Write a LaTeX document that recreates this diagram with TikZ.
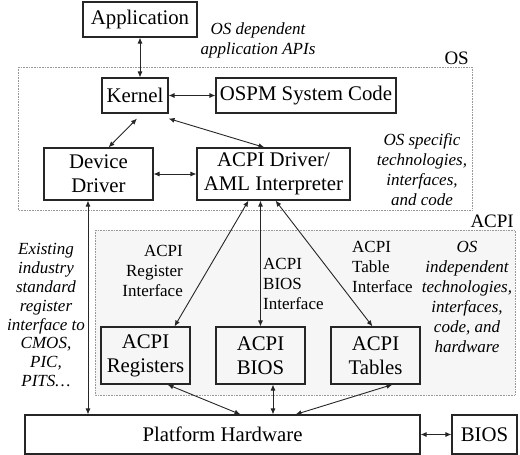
\documentclass[tikz,border=0pt]{standalone}
\usepackage{fontspec}
\setmainfont{Liberation Serif}
\usetikzlibrary{arrows.meta}
\definecolor{edge}{gray}{0.15}
\definecolor{frame}{gray}{0.6}
\definecolor{shade}{gray}{0.965}

\begin{document}
\begin{tikzpicture}[x=1pt,y=-1pt,
    box/.style={draw=edge,line width=1.1pt,inner sep=0pt,align=center,
      font=\fontsize{20.8}{24}\selectfont},
    link/.style={edge,line width=0.9pt,
      {Latex[length=6pt,width=5pt]}-{Latex[length=6pt,width=5pt]}},
    note/.style={inner sep=0pt,align=center,font=\fontsize{17}{20}\selectfont\itshape},
    tag/.style={inner sep=0pt,font=\fontsize{17}{20}\selectfont},
    layer/.style={draw=frame,line width=0.6pt,densely dotted}]
  \useasboundingbox (0,0) rectangle (520,455);
  % the two layers, OS on top and ACPI shaded below
  \draw[layer] (18,67) rectangle (472,210);
  \draw[layer,fill=shade] (95,230) rectangle (515,395);
  \node[anchor=south east,inner sep=0pt,font=\fontsize{19}{22}\selectfont] (os) at (469,65) {OS};
  \node[anchor=south east,inner sep=0pt,font=\fontsize{19}{22}\selectfont] (acpi) at (514,228) {ACPI};

  \node[box,minimum width=114pt,minimum height=35pt] (app) at (140,19.5) {Application};
  \node[box,minimum width=66pt,minimum height=35pt] (kernel) at (135,95.5) {Kernel};
  \node[box,minimum width=180pt,minimum height=35pt] (ospm) at (306,95.5) {OSPM System Code};
  \node[box,minimum width=109pt,minimum height=52pt] (dev) at (98.5,174) {Device\\Driver};
  \node[box,minimum width=153pt,minimum height=52pt] (aml) at (273.5,174) {ACPI Driver/\\AML Interpreter};
  \node[box,minimum width=89pt,minimum height=57pt] (reg) at (145.5,355.5) {ACPI\\Registers};
  \node[box,minimum width=89pt,minimum height=57pt] (bios) at (260.5,355.5) {ACPI\\BIOS};
  \node[box,minimum width=89pt,minimum height=57pt] (tab) at (375.5,355.5) {ACPI\\Tables};
  \node[box,minimum width=395pt,minimum height=39pt] (hw) at (222.5,434.5) {Platform Hardware};
  \node[box,minimum width=65pt,minimum height=39pt] (pbios) at (484.5,434.5) {BIOS};

  % OS side
  \draw[link] (app) -- (kernel.north -| app);
  \draw[link] (kernel) -- (ospm);
  \draw[link] ([xshift=2pt,yshift=-5pt]kernel.south) -- ([xshift=10pt]dev.north);
  \draw[link] ([yshift=-5pt]kernel.south east) -- ([xshift=-9pt]aml.north);
  \draw[link] (dev) -- (aml);
  % down into the ACPI layer
  \draw[link] ([xshift=-25pt]aml.south) -- ([xshift=29pt]reg.north);
  \draw[link] (aml.south -| bios) -- (bios);
  \draw[link] ([xshift=2pt]aml.south) -- ([xshift=-3pt]tab.north);
  % and on to the hardware
  \draw[link] ([xshift=-10.5pt]dev.south) -- ([xshift=-10.5pt]dev.south |- hw.north);
  \draw[link] ([xshift=22pt]reg.south) -- ([xshift=18pt]hw.north);
  \draw[link] ([xshift=12.5pt]bios.south) -- ([xshift=12.5pt]bios.south |- hw.north);
  \draw[link] ([xshift=17pt]tab.south) -- ([xshift=73pt]hw.north);
  \draw[link] (hw) -- (pbios);

  \node[note,anchor=north] (apis) at (258,23) {OS dependent\\application APIs};
  \node[note,anchor=north] (osnote) at (422,133) {OS specific\\technologies,\\interfaces,\\and code};
  \node[note,anchor=north,font=\fontsize{17}{18.9}\selectfont\itshape] (legacy) at (46,243)
    {Existing\\industry\\standard\\register\\interface to\\CMOS,\\PIC,\\PITS\ldots};
  \node[note,anchor=north] (indep) at (467,241) {OS\\independent\\technologies,\\interfaces,\\code, and\\hardware};
  \node[tag,anchor=north east,align=right] (regif) at (183,245) {ACPI\\Register\\Interface};
  \node[tag,anchor=north west,align=left] (biosif) at (263,258) {ACPI\\BIOS\\Interface};
  \node[tag,anchor=north west,align=left] (tabif) at (352,241) {ACPI\\Table\\Interface};
\end{tikzpicture}
\end{document}
